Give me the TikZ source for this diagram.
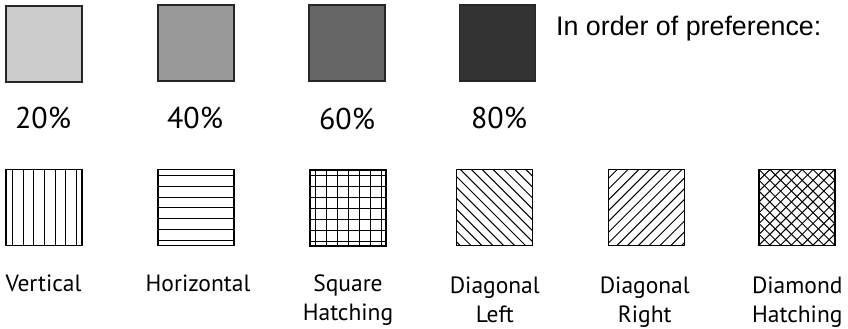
\documentclass[tikz,border=0pt]{standalone}
\usepackage{fontspec}
\setmainfont{PT Sans}
\newfontfamily\arialfont{Liberation Sans}
\begin{document}
\begin{tikzpicture}[x=1pt,y=-1pt,
  swatch/.style={draw=black,line width=1.2pt,minimum size=76pt,inner sep=0pt,outer sep=0pt},
  grey/.style={swatch,draw=black!85,line width=1.3pt,fill=#1},
  hatch/.style={line width=1pt,black},
  vlines/.style={path picture={\foreach \i in {6.3,17,...,72} \draw[hatch] ([xshift=\i pt]path picture bounding box.north west) -- ([xshift=\i pt]path picture bounding box.south west);}},
  hlines/.style={path picture={\foreach \i in {6.3,17,...,72} \draw[hatch] ([yshift=-\i pt]path picture bounding box.north west) -- ([yshift=-\i pt]path picture bounding box.north east);}},
  grid/.style={path picture={\foreach \i in {5.3,16.3,...,75} {\draw[hatch] ([xshift=\i pt]path picture bounding box.north west) -- ([xshift=\i pt]path picture bounding box.south west);
    \draw[hatch] ([yshift=-\i pt]path picture bounding box.north west) -- ([yshift=-\i pt]path picture bounding box.north east);}}},
  dleft/.style={path picture={\foreach \c in {-83.5,-72.6,...,80} \draw[hatch] ([xshift=\c pt]path picture bounding box.north west) -- ([xshift={\c pt+80pt},yshift=-80pt]path picture bounding box.north west);}},
  dright/.style={path picture={\foreach \c in {8.7,19.5,...,160} \draw[hatch] ([xshift=\c pt]path picture bounding box.north west) -- ([xshift={\c pt-80pt},yshift=-80pt]path picture bounding box.north west);}},
  diamond/.style={path picture={\foreach \c in {-86.4,-75.6,...,160} {\draw[hatch] ([xshift=\c pt]path picture bounding box.north west) -- ([xshift={\c pt+80pt},yshift=-80pt]path picture bounding box.north west);
    \draw[hatch] ([xshift=\c pt]path picture bounding box.north west) -- ([xshift={\c pt-80pt},yshift=-80pt]path picture bounding box.north west);}}},
  pct/.style={font=\fontsize{30}{34}\selectfont,inner sep=0pt,anchor=base},
  lab/.style={font=\fontsize{23.5}{29}\selectfont,align=center,inner sep=0pt}
]
\useasboundingbox (0,0) rectangle (848,329);
\node[grey=black!20] (g20) at (44,44) {};
\node[grey=black!40] (g40) at (196,43) {};
\node[grey=black!60] (g60) at (347,43) {};
\node[grey=black!80] (g80) at (497.5,43) {};
\node[pct] (t20) at (43,128) {20\%};
\node[pct] (t40) at (195,128) {40\%};
\node[pct] (t60) at (347,129) {60\%};
\node[pct] (t80) at (499,128) {80\%};
\node[anchor=base west,inner sep=0pt,font=\arialfont\fontsize{26.8}{30}\selectfont] (pref) at (556,36) {In order of preference:};
\node[swatch,vlines] (vert) at (44,207.5) {};
\node[swatch,hlines] (horiz) at (196,207.5) {};
\node[swatch,grid] (square) at (348,208) {};
\node[swatch,dleft] (dl) at (494.7,207.5) {};
\node[swatch,dright] (dr) at (646.5,207.5) {};
\node[swatch,diamond] (diam) at (797,207.5) {};
\node[lab,anchor=base] (lvert) at (43.5,291.7) {Vertical};
\node[lab,anchor=base] (lhoriz) at (198,291.7) {Horizontal};
\node[lab,anchor=north] (lsquare) at (348,275) {Square\\Hatching};
\node[lab,anchor=north] (ldl) at (494.8,277) {Diagonal\\Left};
\node[lab,anchor=north] (ldr) at (644.8,277) {Diagonal\\Right};
\node[lab,anchor=north] (ldiam) at (797.3,277) {Diamond\\Hatching};
\end{tikzpicture}
\end{document}
